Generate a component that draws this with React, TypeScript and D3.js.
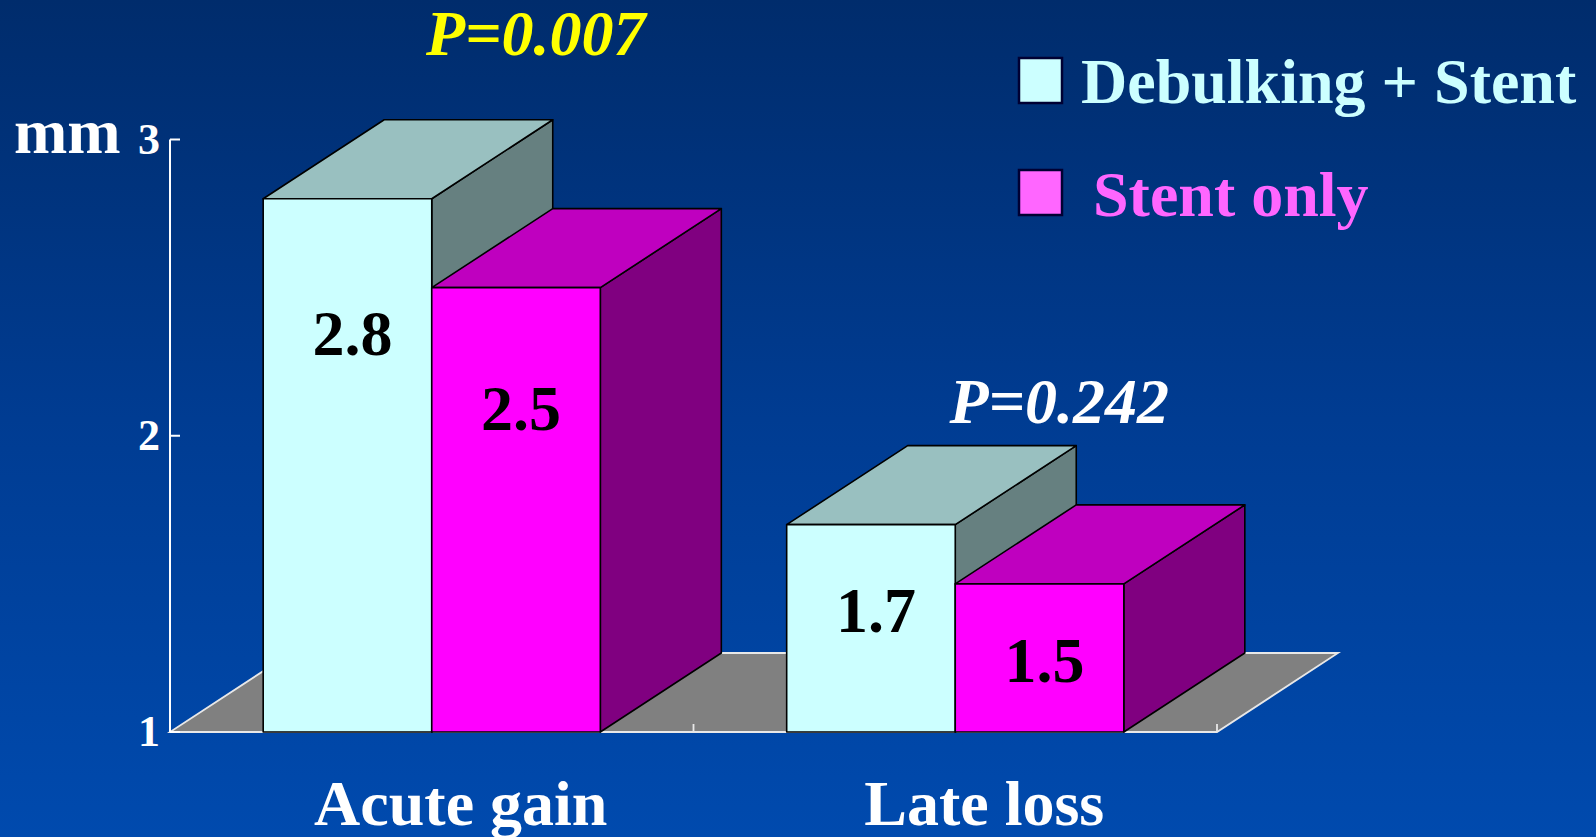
import React from "react";
import * as d3 from "d3";

// Data
const categories = ["Acute gain", "Late loss"];
const seriesNames = ["Debulking + Stent", "Stent only"];
const debulkingValues = [2.8, 1.7];
const stentOnlyValues = [2.5, 1.5];
const yTicks = [1, 2, 3];
const pLabels = ["P=0.007", "P=0.242"];
const pColors = ["#FFFF00", "#FFFFFF"];
const pLevels = [3.285, 2.043]; // baseline height in axis units

// Styles
const W = 1596;
const H = 837;
const FONT = "'Liberation Serif', 'Times New Roman', serif";
const DX = 121;
const DY = -79;

const faceColors = [
  { front: "#CCFFFF", top: "#99C0C0", side: "#668080", legend: "#CCFFFF", text: "#CCFFFF" },
  { front: "#FF00FF", top: "#BF00BF", side: "#800080", legend: "#FF66FF", text: "#FF66FF" },
];

export default function App() {
  const y = d3.scaleLinear().domain([1, 3]).range([732, 139.5]);
  const x = d3
    .scaleBand<string>()
    .domain(categories)
    .range([170, 1217])
    .paddingInner(0.356)
    .paddingOuter(0.178);
  const inner = d3
    .scaleBand<string>()
    .domain(seriesNames)
    .range([0, x.bandwidth()])
    .padding(0);

  const series = [debulkingValues, stentOnlyValues];
  const base = y(1);
  const [x0, x1] = x.range();

  const poly = (pts: [number, number][]) => pts.map((p) => p.join(",")).join(" ");

  const bars: React.ReactNode[] = [];
  categories.forEach((cat, ci) => {
    seriesNames.forEach((s, si) => {
      const v = series[si][ci];
      const left = (x(cat) as number) + (inner(s) as number);
      const right = left + inner.bandwidth();
      const top = y(v);
      const c = faceColors[si];
      bars.push(
        <g key={`${ci}-${si}`} stroke="#000" strokeWidth={1.6} strokeLinejoin="round">
          <polygon
            points={poly([
              [right, top],
              [right + DX, top + DY],
              [right + DX, base + DY],
              [right, base],
            ])}
            fill={c.side}
          />
          <polygon
            points={poly([
              [left, top],
              [right, top],
              [right + DX, top + DY],
              [left + DX, top + DY],
            ])}
            fill={c.top}
          />
          <rect x={left} y={top} width={right - left} height={base - top} fill={c.front} />
          <text
            x={(left + right) / 2 + 5}
            y={0.85 * top + 186}
            textAnchor="middle"
            fontFamily={FONT}
            fontWeight="bold"
            fontSize={64}
            fill="#000"
            stroke="none"
          >
            {v.toFixed(1)}
          </text>
        </g>
      );
    });
  });

  return (
    <svg
      width={W}
      height={H}
      style={{ position: "absolute", left: 0, top: 0, display: "block" }}
    >
      <defs>
        <linearGradient id="bg" x1="0" y1="0" x2="0" y2="1">
          <stop offset="0" stopColor="#002C6C" />
          <stop offset="0.5" stopColor="#003C92" />
          <stop offset="1" stopColor="#004AAE" />
        </linearGradient>
      </defs>
      <rect x={0} y={0} width={W} height={H} fill="url(#bg)" />

      {/* floor */}
      <polygon
        points={poly([
          [x0, base],
          [x1, base],
          [x1 + DX, base + DY],
          [x0 + DX, base + DY],
        ])}
        fill="#808080"
        stroke="#E8E8E8"
        strokeWidth={1.8}
      />
      {/* category separators on the front edge */}
      {[x0 + x.step(), x1].map((t, i) => (
        <line key={i} x1={t} x2={t} y1={base} y2={base - 8} stroke="#E8E8E8" strokeWidth={1.8} />
      ))}

      {/* y axis */}
      <line x1={x0} x2={x0} y1={y(3)} y2={base} stroke="#FFFFFF" strokeWidth={2} />
      {yTicks.map((t) => (
        <g key={t}>
          <line x1={x0} x2={x0 + 10} y1={y(t)} y2={y(t)} stroke="#FFFFFF" strokeWidth={2} />
          <text
            x={160}
            y={y(t) + 14}
            textAnchor="end"
            fontFamily={FONT}
            fontWeight="bold"
            fontSize={44}
            fill="#FFFFFF"
          >
            {t}
          </text>
        </g>
      ))}
      <text x={14} y={153} fontFamily={FONT} fontWeight="bold" fontSize={64} fill="#FFFFFF">
        mm
      </text>

      {bars}

      {/* p-values */}
      {categories.map((cat, i) => (
        <text
          key={cat}
          x={(x(cat) as number) + x.bandwidth() / 2 + 104}
          y={y(pLevels[i])}
          textAnchor="middle"
          fontFamily={FONT}
          fontWeight="bold"
          fontStyle="italic"
          fontSize={64}
          fill={pColors[i]}
        >
          {pLabels[i]}
        </text>
      ))}

      {/* category labels */}
      {categories.map((cat) => (
        <text
          key={cat}
          x={(x(cat) as number) + x.bandwidth() / 2 + 29}
          y={825}
          textAnchor="middle"
          fontFamily={FONT}
          fontWeight="bold"
          fontSize={64}
          fill="#FFFFFF"
        >
          {cat}
        </text>
      ))}

      {/* legend */}
      {seriesNames.map((s, i) => (
        <g key={s}>
          <rect
            x={1019}
            y={58 + i * 112}
            width={43}
            height={45}
            fill={faceColors[i].legend}
            stroke="#000033"
            strokeWidth={2.5}
          />
          <text
            x={i === 0 ? 1081 : 1093}
            y={103 + i * 113}
            fontFamily={FONT}
            fontWeight="bold"
            fontSize={64}
            fill={faceColors[i].text}
          >
            {s}
          </text>
        </g>
      ))}
    </svg>
  );
}
